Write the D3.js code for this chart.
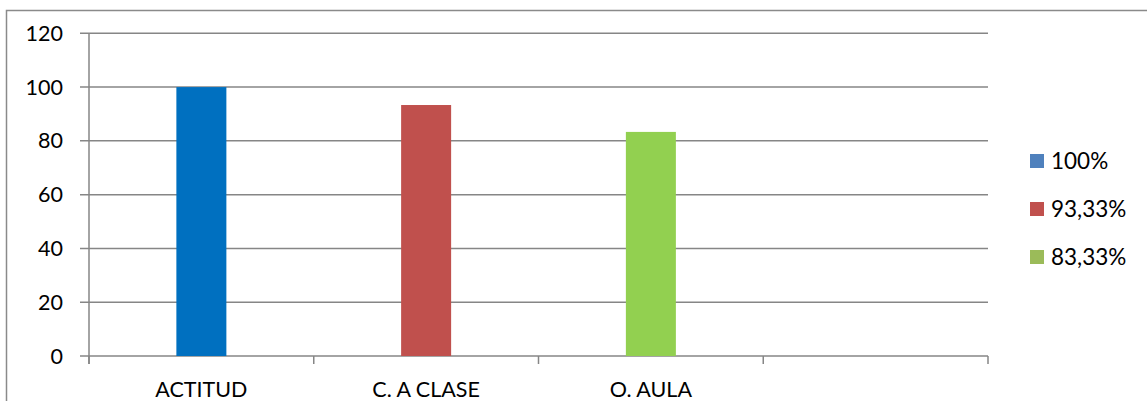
<!DOCTYPE html>
<html><head><meta charset="utf-8">
<script src="https://cdn.jsdelivr.net/npm/d3@7"></script>
<style>body{margin:0;background:#fff}svg{display:block}</style>
</head><body>
<svg id="c" width="1147" height="401"></svg>
<script>
const categories = ["ACTITUD", "C. A CLASE", "O. AULA", ""];
const values = [100, 93.33, 83.33, null];
const barColors = ["#0070C0", "#C0504D", "#92D050"];
const legendLabels = ["100%", "93,33%", "83,33%"];
const legendColors = ["#4F81BD", "#C0504D", "#9BBB59"];
const yTicks = [0, 20, 40, 60, 80, 100, 120];

(function () {
const svg = d3.select("#c");
const font = "Lato, 'Open Sans', sans-serif";
const axisColor = "#868686";

// outer border
svg.append("rect").attr("x", 6.5).attr("y", 10.5).attr("width", 1150).attr("height", 420)
  .attr("fill", "none").attr("stroke", "#8a8a8a").attr("stroke-width", 1.5);

const pLeft = 89, pRight = 988, pTop = 33.3, pBottom = 356;
const x = d3.scaleBand().domain(d3.range(categories.length)).range([pLeft, pRight]);
const y = d3.scaleLinear().domain([0, 120]).range([pBottom, pTop]);

// gridlines
svg.append("g").selectAll("line").data(yTicks).join("line")
  .attr("x1", pLeft - 9).attr("x2", pRight)
  .attr("y1", d => y(d)).attr("y2", d => y(d))
  .attr("stroke", axisColor).attr("stroke-width", 1.5);

// y axis line
svg.append("line").attr("x1", pLeft).attr("x2", pLeft).attr("y1", pTop).attr("y2", pBottom + 8)
  .attr("stroke", axisColor).attr("stroke-width", 1.5);

// y labels
svg.append("g").selectAll("text").data(yTicks).join("text")
  .attr("x", 63).attr("y", d => y(d)).attr("dy", "0.35em")
  .attr("text-anchor", "end").attr("font-family", font).attr("font-size", 21.5)
  .attr("fill", "#000").text(d => d);

// x ticks
const tickPos = d3.range(categories.length + 1).map(i => pLeft + i * x.step());
svg.append("g").selectAll("line").data(tickPos).join("line")
  .attr("x1", d => d).attr("x2", d => d).attr("y1", pBottom).attr("y2", pBottom + 8)
  .attr("stroke", axisColor).attr("stroke-width", 1.5);

// bars
const bw = 50;
svg.append("g").selectAll("rect").data(values.map((v, i) => ({v, i})).filter(d => d.v != null)).join("rect")
  .attr("x", d => x(d.i) + x.bandwidth() / 2 - bw / 2)
  .attr("width", bw)
  .attr("y", d => y(d.v))
  .attr("height", d => y(0) - y(d.v))
  .attr("fill", d => barColors[d.i]);

// x labels
svg.append("g").selectAll("text").data(categories).join("text")
  .attr("x", (d, i) => x(i) + x.bandwidth() / 2).attr("y", 397)
  .attr("text-anchor", "middle").attr("font-family", font).attr("font-size", 21.5)
  .attr("fill", "#000").text(d => d);

// legend
const ly = [161, 209, 257];
const lg = svg.append("g").selectAll("g").data(legendLabels).join("g")
  .attr("transform", (d, i) => `translate(1030,${ly[i]})`);
lg.append("rect").attr("x", 0).attr("y", -7).attr("width", 14).attr("height", 14)
  .attr("fill", (d, i) => legendColors[i]);
lg.append("text").attr("x", 21).attr("y", 0).attr("dy", "0.35em")
  .attr("font-family", font).attr("font-size", 22.5).attr("fill", "#000").text(d => d);
})();
</script>
</body></html>
